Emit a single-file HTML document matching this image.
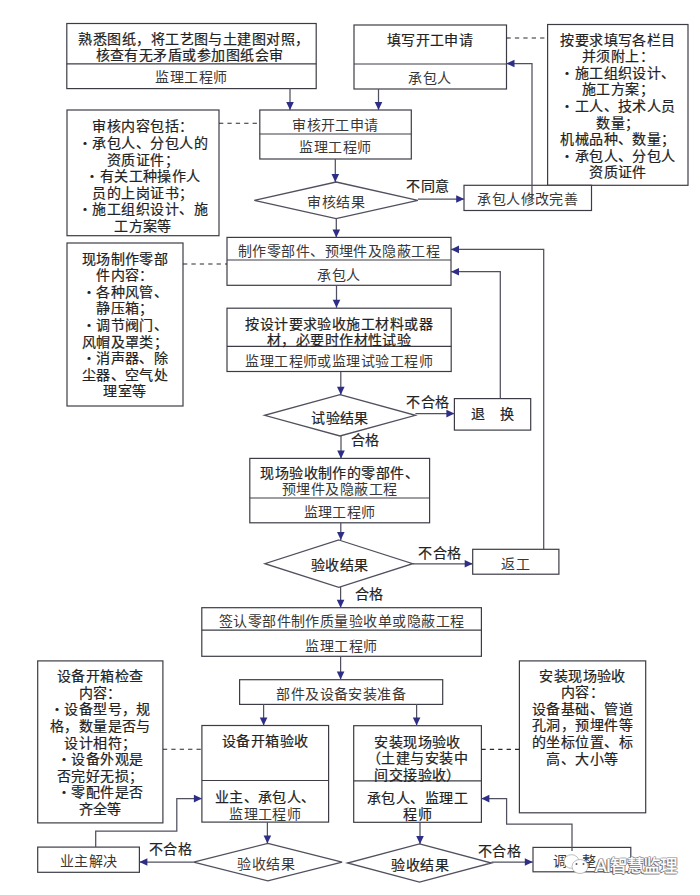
<!DOCTYPE html>
<html lang="zh-CN"><head><meta charset="utf-8"><style>
html,body{margin:0;padding:0;background:#fff;}
body{width:700px;height:895px;position:relative;overflow:hidden;font-family:"Liberation Sans",sans-serif;}
svg{position:absolute;left:0;top:0;}
.wm{position:absolute;left:595px;top:856px;font-size:17.5px;line-height:20px;letter-spacing:-0.6px;color:#fff;font-weight:normal;-webkit-text-stroke:0.4px #fff;text-shadow:-1px 0 0 #555,0 1px 0 #555,1px 0 0 #888,0 -1px 0 #999,-1px 1px 0 #666,1px -1px 0 #bbb;white-space:nowrap;}
.l{-webkit-text-stroke:0 !important;color:#383838 !important;}
.t{position:absolute;text-align:center;color:#222;white-space:nowrap;text-spacing-trim:space-all;letter-spacing:0.45px;-webkit-text-stroke:0.2px #222;}
</style></head><body>
<svg width="700" height="895" viewBox="0 0 700 895">
<rect x="66.8" y="23.5" width="249.40" height="65.10" fill="#fff" stroke="#3c3c46" stroke-width="1.2"/>
<line x1="66.8" y1="63.9" x2="316.2" y2="63.9" stroke="#3c3c46" stroke-width="1.2"/>
<rect x="354" y="25" width="152.50" height="64.00" fill="#fff" stroke="#3c3c46" stroke-width="1.2"/>
<line x1="354" y1="64" x2="506.5" y2="64" stroke="#3c3c46" stroke-width="1.2"/>
<rect x="547.6" y="24.5" width="140.40" height="160.80" fill="#fff" stroke="#3c3c46" stroke-width="1.2"/>
<rect x="259.8" y="110" width="151.50" height="49.00" fill="#fff" stroke="#3c3c46" stroke-width="1.2"/>
<line x1="259.8" y1="134" x2="411.3" y2="134" stroke="#3c3c46" stroke-width="1.2"/>
<rect x="67" y="110" width="152.00" height="125.70" fill="#fff" stroke="#3c3c46" stroke-width="1.2"/>
<rect x="464" y="185.3" width="127.50" height="25.20" fill="#fff" stroke="#3c3c46" stroke-width="1.2"/>
<rect x="227" y="237.4" width="224.00" height="47.90" fill="#fff" stroke="#3c3c46" stroke-width="1.2"/>
<line x1="227" y1="260" x2="451" y2="260" stroke="#3c3c46" stroke-width="1.2"/>
<rect x="67" y="243" width="116.00" height="163.00" fill="#fff" stroke="#3c3c46" stroke-width="1.2"/>
<rect x="227" y="308.2" width="224.20" height="63.30" fill="#fff" stroke="#3c3c46" stroke-width="1.2"/>
<line x1="227" y1="346.4" x2="451.2" y2="346.4" stroke="#3c3c46" stroke-width="1.2"/>
<rect x="454.4" y="398.6" width="76.30" height="31.50" fill="#fff" stroke="#3c3c46" stroke-width="1.2"/>
<rect x="249.8" y="458.4" width="179.80" height="64.40" fill="#fff" stroke="#3c3c46" stroke-width="1.2"/>
<line x1="249.8" y1="498" x2="429.6" y2="498" stroke="#3c3c46" stroke-width="1.2"/>
<rect x="472.7" y="549.3" width="86.20" height="24.90" fill="#fff" stroke="#3c3c46" stroke-width="1.2"/>
<rect x="201.8" y="607.7" width="279.60" height="48.60" fill="#fff" stroke="#3c3c46" stroke-width="1.2"/>
<line x1="201.8" y1="630.1" x2="481.4" y2="630.1" stroke="#3c3c46" stroke-width="1.2"/>
<rect x="239.6" y="679.7" width="203.10" height="24.70" fill="#fff" stroke="#3c3c46" stroke-width="1.2"/>
<rect x="201.9" y="725.5" width="126.70" height="96.60" fill="#fff" stroke="#3c3c46" stroke-width="1.2"/>
<line x1="201.9" y1="780.5" x2="328.6" y2="780.5" stroke="#3c3c46" stroke-width="1.2"/>
<rect x="37.7" y="660.9" width="125.20" height="162.00" fill="#fff" stroke="#3c3c46" stroke-width="1.2"/>
<rect x="353.7" y="725.7" width="127.70" height="96.60" fill="#fff" stroke="#3c3c46" stroke-width="1.2"/>
<line x1="353.7" y1="780.9" x2="481.4" y2="780.9" stroke="#3c3c46" stroke-width="1.2"/>
<rect x="519.4" y="660.9" width="126.30" height="151.90" fill="#fff" stroke="#3c3c46" stroke-width="1.2"/>
<rect x="37.7" y="847.1" width="101.70" height="25.20" fill="#fff" stroke="#3c3c46" stroke-width="1.2"/>
<rect x="533" y="847.4" width="97.80" height="24.40" fill="#fff" stroke="#3c3c46" stroke-width="1.2"/>
<polygon points="336.10,182 417.9,200.30 336.10,218.6 254.3,200.30" fill="#fff" stroke="#50505e" stroke-width="1.3"/>
<polygon points="340.00,394.7 415.4,415.35 340.00,436 264.6,415.35" fill="#fff" stroke="#50505e" stroke-width="1.3"/>
<polygon points="338.80,540 412.7,563.70 338.80,587.4 264.9,563.70" fill="#fff" stroke="#50505e" stroke-width="1.3"/>
<polygon points="267.85,843.3 342.1,862.10 267.85,880.9 193.6,862.10" fill="#fff" stroke="#50505e" stroke-width="1.3"/>
<polygon points="419.50,843.9 491.5,863.00 419.50,882.1 347.5,863.00" fill="#fff" stroke="#50505e" stroke-width="1.3"/>
<line x1="506.5" y1="38" x2="547.6" y2="38" stroke="#2a2a2a" stroke-width="1.1" stroke-dasharray="4.3,4.1"/>
<line x1="219" y1="123.3" x2="260" y2="123.3" stroke="#2a2a2a" stroke-width="1.1" stroke-dasharray="4.3,4.1"/>
<line x1="183" y1="264" x2="227" y2="264" stroke="#2a2a2a" stroke-width="1.1" stroke-dasharray="4.3,4.1"/>
<line x1="162.9" y1="749.2" x2="201.9" y2="749.2" stroke="#2a2a2a" stroke-width="1.1" stroke-dasharray="4.3,4.1"/>
<line x1="481.4" y1="749.4" x2="519.4" y2="749.4" stroke="#2a2a2a" stroke-width="1.1" stroke-dasharray="4.3,4.1"/>
<polyline points="290,88 290,110" fill="none" stroke="#50505e" stroke-width="1.25"/>
<polygon points="290,110 286.20,102.00 293.80,102.00" fill="#2e2e86"/>
<polyline points="378.5,89 378.5,110" fill="none" stroke="#50505e" stroke-width="1.25"/>
<polygon points="378.5,110 374.70,102.00 382.30,102.00" fill="#2e2e86"/>
<polyline points="335.3,159 335.3,182" fill="none" stroke="#50505e" stroke-width="1.25"/>
<polygon points="335.3,182 331.50,174.00 339.10,174.00" fill="#2e2e86"/>
<polyline points="418,199 464.2,199" fill="none" stroke="#50505e" stroke-width="1.25"/>
<polygon points="464.2,199 456.20,202.80 456.20,195.20" fill="#2e2e86"/>
<polyline points="532,202 532,63.5 506.5,63.5" fill="none" stroke="#50505e" stroke-width="1.25"/>
<polygon points="506.5,63.5 514.50,59.70 514.50,67.30" fill="#2e2e86"/>
<polyline points="336.3,218.6 336.3,237.4" fill="none" stroke="#50505e" stroke-width="1.25"/>
<polygon points="336.3,237.4 332.50,229.40 340.10,229.40" fill="#2e2e86"/>
<polyline points="543.7,549.3 543.7,249.4 451,249.4" fill="none" stroke="#50505e" stroke-width="1.25"/>
<polygon points="451,249.4 459.00,245.60 459.00,253.20" fill="#2e2e86"/>
<polyline points="500.3,398.6 500.3,271.7 451,271.7" fill="none" stroke="#50505e" stroke-width="1.25"/>
<polygon points="451,271.7 459.00,267.90 459.00,275.50" fill="#2e2e86"/>
<polyline points="336.5,285.3 336.5,307.8" fill="none" stroke="#50505e" stroke-width="1.25"/>
<polygon points="336.5,307.8 332.70,299.80 340.30,299.80" fill="#2e2e86"/>
<polyline points="340.8,371.7 340.8,394.8" fill="none" stroke="#50505e" stroke-width="1.25"/>
<polygon points="340.8,394.8 337.00,386.80 344.60,386.80" fill="#2e2e86"/>
<polyline points="415.4,413.6 454.4,413.6" fill="none" stroke="#50505e" stroke-width="1.25"/>
<polygon points="454.4,413.6 446.40,417.40 446.40,409.80" fill="#2e2e86"/>
<polyline points="341,436 341,458.4" fill="none" stroke="#50505e" stroke-width="1.25"/>
<polygon points="341,458.4 337.20,450.40 344.80,450.40" fill="#2e2e86"/>
<polyline points="340.8,522.8 340.8,540" fill="none" stroke="#50505e" stroke-width="1.25"/>
<polygon points="340.8,540 337.00,532.00 344.60,532.00" fill="#2e2e86"/>
<polyline points="412.7,563.8 472.7,563.8" fill="none" stroke="#50505e" stroke-width="1.25"/>
<polygon points="472.7,563.8 464.70,567.60 464.70,560.00" fill="#2e2e86"/>
<polyline points="340.6,587 340.6,607.8" fill="none" stroke="#50505e" stroke-width="1.25"/>
<polygon points="340.6,607.8 336.80,599.80 344.40,599.80" fill="#2e2e86"/>
<polyline points="340.6,656.2 340.6,679.4" fill="none" stroke="#50505e" stroke-width="1.25"/>
<polygon points="340.6,679.4 336.80,671.40 344.40,671.40" fill="#2e2e86"/>
<polyline points="263.6,704 263.6,725.5" fill="none" stroke="#50505e" stroke-width="1.25"/>
<polygon points="263.6,725.5 259.80,717.50 267.40,717.50" fill="#2e2e86"/>
<polyline points="416.6,704 416.6,725.5" fill="none" stroke="#50505e" stroke-width="1.25"/>
<polygon points="416.6,725.5 412.80,717.50 420.40,717.50" fill="#2e2e86"/>
<polyline points="267.4,822.1 267.4,843.5" fill="none" stroke="#50505e" stroke-width="1.25"/>
<polygon points="267.4,843.5 263.60,835.50 271.20,835.50" fill="#2e2e86"/>
<polyline points="193.6,862 139.4,862" fill="none" stroke="#50505e" stroke-width="1.25"/>
<polygon points="139.4,862 147.40,858.20 147.40,865.80" fill="#2e2e86"/>
<polyline points="95.7,847.1 95.7,831.2 176.8,831.2 176.8,798.6 201.9,798.6" fill="none" stroke="#50505e" stroke-width="1.25"/>
<polygon points="201.9,798.6 193.90,802.40 193.90,794.80" fill="#2e2e86"/>
<polyline points="420,822.3 420,843.9" fill="none" stroke="#50505e" stroke-width="1.25"/>
<polygon points="420,843.9 416.20,835.90 423.80,835.90" fill="#2e2e86"/>
<polyline points="491.5,862 532.8,862" fill="none" stroke="#50505e" stroke-width="1.25"/>
<polygon points="532.8,862 524.80,865.80 524.80,858.20" fill="#2e2e86"/>
<polyline points="572,851 572,824 506.6,824 506.6,798.6 481.4,798.6" fill="none" stroke="#50505e" stroke-width="1.25"/>
<polygon points="481.4,798.6 489.40,794.80 489.40,802.40" fill="#2e2e86"/>
</svg>
<div class="t" style="left:49.5px;width:289.0px;top:30.5px;font-size:14px;line-height:16.6px">熟悉图纸，将工艺图与土建图对照，</div>
<div class="t" style="left:45.0px;width:289.0px;top:47.1px;font-size:14px;line-height:16.6px">核查有无矛盾或参加图纸会审</div>
<div class="t l" style="left:47.0px;width:289.0px;top:68.8px;font-size:14px;line-height:16.6px">监理工程师</div>
<div class="t" style="left:334.0px;width:192.0px;top:31.5px;font-size:14px;line-height:16.6px">填写开工申请</div>
<div class="t l" style="left:334.0px;width:192.0px;top:70.0px;font-size:14px;line-height:16.6px">承包人</div>
<div class="t" style="left:528.0px;width:180.0px;top:31.6px;font-size:14px;line-height:16.6px">按要求填写各栏目</div>
<div class="t" style="left:528.0px;width:180.0px;top:48.2px;font-size:14px;line-height:16.6px">并须附上：</div>
<div class="t" style="left:528.0px;width:180.0px;top:64.8px;font-size:14px;line-height:16.6px">・施工组织设计、</div>
<div class="t" style="left:528.0px;width:180.0px;top:81.4px;font-size:14px;line-height:16.6px">施工方案；</div>
<div class="t" style="left:528.0px;width:180.0px;top:98.0px;font-size:14px;line-height:16.6px">・工人、技术人员</div>
<div class="t" style="left:528.0px;width:180.0px;top:114.6px;font-size:14px;line-height:16.6px">数量；</div>
<div class="t" style="left:528.0px;width:180.0px;top:131.2px;font-size:14px;line-height:16.6px">机械品种、数量；</div>
<div class="t" style="left:528.0px;width:180.0px;top:147.8px;font-size:14px;line-height:16.6px">・承包人、分包人</div>
<div class="t" style="left:528.0px;width:180.0px;top:164.4px;font-size:14px;line-height:16.6px">资质证件</div>
<div class="t l" style="left:240.0px;width:191.0px;top:116.8px;font-size:14px;line-height:16.6px">审核开工申请</div>
<div class="t l" style="left:240.0px;width:191.0px;top:139.1px;font-size:14px;line-height:16.6px">监理工程师</div>
<div class="t" style="left:47.0px;width:192.0px;top:118.3px;font-size:14px;line-height:16.6px">审核内容包括：</div>
<div class="t" style="left:47.0px;width:192.0px;top:134.9px;font-size:14px;line-height:16.6px">・承包人、分包人的</div>
<div class="t" style="left:47.0px;width:192.0px;top:151.5px;font-size:14px;line-height:16.6px">资质证件；</div>
<div class="t" style="left:47.0px;width:192.0px;top:168.1px;font-size:14px;line-height:16.6px">・有关工种操作人</div>
<div class="t" style="left:47.0px;width:192.0px;top:184.7px;font-size:14px;line-height:16.6px">员的上岗证书；</div>
<div class="t" style="left:47.0px;width:192.0px;top:201.3px;font-size:14px;line-height:16.6px">・施工组织设计、施</div>
<div class="t" style="left:47.0px;width:192.0px;top:217.9px;font-size:14px;line-height:16.6px">工方案等</div>
<div class="t l" style="left:234.3px;width:203.6px;top:194.1px;font-size:14px;line-height:16.6px">审核结果</div>
<div class="t" style="left:380.0px;width:96.0px;top:178.2px;font-size:14px;line-height:16.6px">不同意</div>
<div class="t l" style="left:444.0px;width:167.5px;top:191.1px;font-size:14px;line-height:16.6px">承包人修改完善</div>
<div class="t l" style="left:207.0px;width:264.0px;top:242.5px;font-size:14px;line-height:16.6px">制作零部件、预埋件及隐蔽工程</div>
<div class="t l" style="left:207.0px;width:264.0px;top:266.8px;font-size:14px;line-height:16.6px">承包人</div>
<div class="t" style="left:47.0px;width:156.0px;top:250.5px;font-size:14px;line-height:16.6px">现场制作零部</div>
<div class="t" style="left:47.0px;width:156.0px;top:267.1px;font-size:14px;line-height:16.6px">件内容：</div>
<div class="t" style="left:47.0px;width:156.0px;top:283.7px;font-size:14px;line-height:16.6px">・各种风管、</div>
<div class="t" style="left:47.0px;width:156.0px;top:300.3px;font-size:14px;line-height:16.6px">静压箱；</div>
<div class="t" style="left:47.0px;width:156.0px;top:316.9px;font-size:14px;line-height:16.6px">・调节阀门、</div>
<div class="t" style="left:47.0px;width:156.0px;top:333.5px;font-size:14px;line-height:16.6px">风帽及罩类；</div>
<div class="t" style="left:47.0px;width:156.0px;top:350.1px;font-size:14px;line-height:16.6px">・消声器、除</div>
<div class="t" style="left:47.0px;width:156.0px;top:366.7px;font-size:14px;line-height:16.6px">尘器、空气处</div>
<div class="t" style="left:47.0px;width:156.0px;top:383.3px;font-size:14px;line-height:16.6px">理室等</div>
<div class="t" style="left:207.0px;width:264.2px;top:315.8px;font-size:14px;line-height:16.6px">按设计要求验收施工材料或器</div>
<div class="t" style="left:207.0px;width:264.2px;top:332.4px;font-size:14px;line-height:16.6px">材，必要时作材性试验</div>
<div class="t l" style="left:207.0px;width:264.2px;top:352.8px;font-size:14px;line-height:16.6px">监理工程师或监理试验工程师</div>
<div class="t" style="left:244.3px;width:191.4px;top:410.0px;font-size:14px;line-height:16.6px">试验结果</div>
<div class="t" style="left:380.0px;width:96.0px;top:393.8px;font-size:14px;line-height:16.6px">不合格</div>
<div class="t" style="left:320.0px;width:90.0px;top:431.8px;font-size:14px;line-height:16.6px">合格</div>
<div class="t" style="left:434.4px;width:116.3px;top:406.1px;font-size:14px;line-height:16.6px">退　换</div>
<div class="t" style="left:229.8px;width:219.8px;top:465.4px;font-size:14px;line-height:16px">现场验收制作的零部件、</div>
<div class="t l" style="left:229.8px;width:219.8px;top:481.4px;font-size:14px;line-height:16px">预埋件及隐蔽工程</div>
<div class="t l" style="left:229.8px;width:219.8px;top:504.0px;font-size:14px;line-height:16.6px">监理工程师</div>
<div class="t" style="left:246.1px;width:186.9px;top:557.3px;font-size:14px;line-height:16.6px">验收结果</div>
<div class="t" style="left:392.0px;width:96.0px;top:544.5px;font-size:14px;line-height:16.6px">不合格</div>
<div class="t l" style="left:452.7px;width:126.2px;top:555.5px;font-size:14px;line-height:16.6px">返工</div>
<div class="t" style="left:324.0px;width:90.0px;top:586.0px;font-size:14px;line-height:16.6px">合格</div>
<div class="t l" style="left:181.8px;width:319.6px;top:613.3px;font-size:14px;line-height:16.6px">签认零部件制作质量验收单或隐蔽工程</div>
<div class="t l" style="left:181.8px;width:319.6px;top:637.5px;font-size:14px;line-height:16.6px">监理工程师</div>
<div class="t l" style="left:219.7px;width:243.0px;top:685.8px;font-size:14px;line-height:16.6px">部件及设备安装准备</div>
<div class="t" style="left:181.9px;width:166.7px;top:732.5px;font-size:14px;line-height:16.6px">设备开箱验收</div>
<div class="t" style="left:181.9px;width:166.7px;top:788.9px;font-size:14px;line-height:16.6px">业主、承包人、</div>
<div class="t l" style="left:181.9px;width:166.7px;top:805.5px;font-size:14px;line-height:16.6px">监理工程师</div>
<div class="t" style="left:17.7px;width:165.2px;top:668.2px;font-size:14px;line-height:16.6px">设备开箱检查</div>
<div class="t" style="left:17.7px;width:165.2px;top:684.8px;font-size:14px;line-height:16.6px">内容：</div>
<div class="t" style="left:17.7px;width:165.2px;top:701.4px;font-size:14px;line-height:16.6px">・设备型号，规</div>
<div class="t" style="left:17.7px;width:165.2px;top:718.0px;font-size:14px;line-height:16.6px">格，数量是否与</div>
<div class="t" style="left:17.7px;width:165.2px;top:734.6px;font-size:14px;line-height:16.6px">设计相符；</div>
<div class="t" style="left:17.7px;width:165.2px;top:751.2px;font-size:14px;line-height:16.6px">・设备外观是</div>
<div class="t" style="left:17.7px;width:165.2px;top:767.8px;font-size:14px;line-height:16.6px">否完好无损；</div>
<div class="t" style="left:17.7px;width:165.2px;top:784.4px;font-size:14px;line-height:16.6px">・零配件是否</div>
<div class="t" style="left:17.7px;width:165.2px;top:801.0px;font-size:14px;line-height:16.6px">齐全等</div>
<div class="t" style="left:333.7px;width:167.7px;top:733.5px;font-size:14px;line-height:16.6px">安装现场验收</div>
<div class="t" style="left:333.7px;width:167.7px;top:750.1px;font-size:14px;line-height:16.6px">（土建与安装中</div>
<div class="t" style="left:333.7px;width:167.7px;top:766.7px;font-size:14px;line-height:16.6px">间交接验收）</div>
<div class="t" style="left:333.7px;width:167.7px;top:789.6px;font-size:14px;line-height:16.6px">承包人、监理工</div>
<div class="t" style="left:333.7px;width:167.7px;top:806.2px;font-size:14px;line-height:16.6px">程师</div>
<div class="t" style="left:499.4px;width:166.3px;top:667.6px;font-size:14px;line-height:16.6px">安装现场验收</div>
<div class="t" style="left:499.4px;width:166.3px;top:684.2px;font-size:14px;line-height:16.6px">内容：</div>
<div class="t" style="left:499.4px;width:166.3px;top:700.8px;font-size:14px;line-height:16.6px">设备基础、管道</div>
<div class="t" style="left:499.4px;width:166.3px;top:717.4px;font-size:14px;line-height:16.6px">孔洞，预埋件等</div>
<div class="t" style="left:499.4px;width:166.3px;top:734.0px;font-size:14px;line-height:16.6px">的坐标位置、标</div>
<div class="t" style="left:499.4px;width:166.3px;top:750.6px;font-size:14px;line-height:16.6px">高、大小等</div>
<div class="t l" style="left:171.6px;width:189.1px;top:855.8px;font-size:14px;line-height:16.6px">验收结果</div>
<div class="t" style="left:125.0px;width:91.0px;top:841.1px;font-size:14px;line-height:16.6px">不合格</div>
<div class="t l" style="left:17.7px;width:141.7px;top:852.5px;font-size:14px;line-height:16.6px">业主解决</div>
<div class="t" style="left:328.2px;width:183.8px;top:857.1px;font-size:14px;line-height:16.6px">验收结果</div>
<div class="t" style="left:454.0px;width:91.0px;top:843.2px;font-size:14px;line-height:16.6px">不合格</div>
<div class="t l" style="left:483.0px;width:184.0px;top:852.5px;font-size:14px;line-height:16.6px">调　整</div>
<svg width="700" height="895" viewBox="0 0 700 895" style="position:absolute;left:0;top:0">
<g>
<ellipse cx="571.5" cy="861.5" rx="7.5" ry="6.8" fill="#fff" stroke="#a0a0a0" stroke-width="0.7"/>
<ellipse cx="580" cy="866.5" rx="8" ry="7" fill="#fff" stroke="#a0a0a0" stroke-width="0.7"/>
<circle cx="576.5" cy="864" r="1" fill="#555"/><circle cx="583.5" cy="864" r="1" fill="#555"/>
</g>
</svg>
<div class="wm">AI智慧监理</div>
</body></html>
